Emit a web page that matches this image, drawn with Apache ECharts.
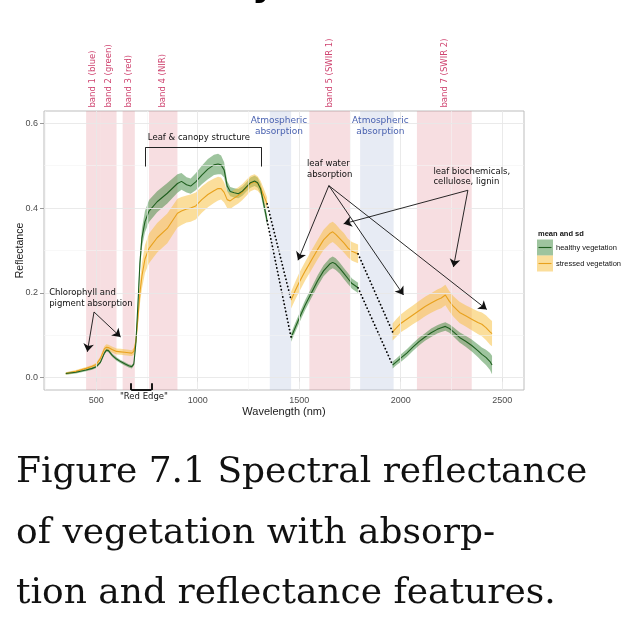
<!DOCTYPE html>
<html>
<head>
<meta charset="utf-8">
<script src="https://cdn.jsdelivr.net/npm/echarts@6/dist/echarts.min.js"></script>
<style>
  html, body { margin: 0; padding: 0; background: #fff; }
  #chart { width: 638px; height: 628px; }
</style>
</head>
<body>
<div id="chart"></div>
<script>
// ---- spectra: three measured segments (gaps = atmospheric absorption) ----
var wl1 = [350, 400, 450, 480, 500, 520, 540, 550, 560, 580, 600, 620, 640, 660, 675, 685, 695, 705, 715, 725, 740, 760, 800, 850, 900, 920, 945, 965, 990, 1020, 1050, 1080, 1100, 1115, 1130, 1145, 1160, 1180, 1200, 1220, 1240, 1260, 1280, 1295, 1310, 1325, 1342];
var healthy1 = [0.010, 0.013, 0.018, 0.022, 0.026, 0.036, 0.058, 0.065, 0.064, 0.052, 0.044, 0.038, 0.033, 0.028, 0.026, 0.032, 0.080, 0.170, 0.270, 0.330, 0.368, 0.393, 0.415, 0.435, 0.458, 0.463, 0.455, 0.452, 0.462, 0.478, 0.492, 0.502, 0.504, 0.502, 0.490, 0.452, 0.439, 0.436, 0.434, 0.440, 0.450, 0.460, 0.464, 0.460, 0.445, 0.410, 0.370];
var healthySd1 = [0.003, 0.003, 0.003, 0.003, 0.003, 0.003, 0.004, 0.004, 0.004, 0.004, 0.004, 0.004, 0.004, 0.004, 0.004, 0.004, 0.006, 0.012, 0.018, 0.022, 0.025, 0.026, 0.025, 0.024, 0.022, 0.020, 0.018, 0.018, 0.020, 0.022, 0.024, 0.024, 0.024, 0.022, 0.018, 0.012, 0.011, 0.011, 0.011, 0.011, 0.011, 0.012, 0.012, 0.012, 0.012, 0.012, 0.012];
var stressed1 = [0.010, 0.015, 0.022, 0.027, 0.031, 0.045, 0.068, 0.072, 0.071, 0.066, 0.062, 0.061, 0.060, 0.059, 0.058, 0.062, 0.085, 0.140, 0.200, 0.240, 0.280, 0.305, 0.330, 0.352, 0.388, 0.393, 0.398, 0.400, 0.405, 0.420, 0.432, 0.441, 0.446, 0.446, 0.437, 0.420, 0.417, 0.424, 0.430, 0.438, 0.448, 0.458, 0.462, 0.458, 0.448, 0.430, 0.410];
var stressedSd1 = [0.003, 0.003, 0.003, 0.003, 0.004, 0.005, 0.006, 0.007, 0.007, 0.007, 0.007, 0.007, 0.007, 0.007, 0.007, 0.008, 0.010, 0.018, 0.026, 0.030, 0.033, 0.035, 0.035, 0.035, 0.034, 0.033, 0.032, 0.032, 0.032, 0.031, 0.030, 0.029, 0.028, 0.026, 0.024, 0.020, 0.019, 0.019, 0.019, 0.019, 0.019, 0.018, 0.018, 0.017, 0.016, 0.016, 0.015];

var wl2 = [1460, 1480, 1500, 1530, 1560, 1590, 1620, 1650, 1665, 1680, 1700, 1720, 1740, 1760, 1790];
var healthy2 = [0.095, 0.118, 0.140, 0.172, 0.200, 0.228, 0.252, 0.268, 0.272, 0.268, 0.258, 0.246, 0.234, 0.222, 0.212];
var healthySd2 = [0.010, 0.011, 0.011, 0.012, 0.012, 0.013, 0.013, 0.014, 0.014, 0.014, 0.013, 0.013, 0.013, 0.012, 0.012];
var stressed2 = [0.183, 0.205, 0.225, 0.252, 0.277, 0.302, 0.325, 0.340, 0.344, 0.338, 0.328, 0.318, 0.306, 0.298, 0.292];
var stressedSd2 = [0.020, 0.021, 0.022, 0.022, 0.023, 0.023, 0.024, 0.024, 0.024, 0.024, 0.023, 0.023, 0.022, 0.022, 0.022];

var wl3 = [1960, 1980, 2000, 2030, 2060, 2090, 2120, 2150, 2180, 2200, 2220, 2240, 2260, 2290, 2320, 2350, 2380, 2400, 2420, 2440, 2450];
var healthy3 = [0.030, 0.038, 0.046, 0.058, 0.072, 0.085, 0.096, 0.106, 0.114, 0.118, 0.121, 0.116, 0.108, 0.095, 0.086, 0.076, 0.064, 0.055, 0.048, 0.038, 0.030];
var healthySd3 = [0.008, 0.008, 0.009, 0.009, 0.009, 0.009, 0.009, 0.010, 0.010, 0.010, 0.010, 0.010, 0.011, 0.012, 0.013, 0.014, 0.015, 0.016, 0.018, 0.020, 0.022];
var stressed3 = [0.108, 0.118, 0.128, 0.138, 0.148, 0.158, 0.168, 0.176, 0.184, 0.188, 0.195, 0.180, 0.168, 0.154, 0.146, 0.138, 0.130, 0.126, 0.118, 0.108, 0.104];
var stressedSd3 = [0.020, 0.021, 0.021, 0.022, 0.022, 0.023, 0.023, 0.023, 0.024, 0.024, 0.024, 0.024, 0.024, 0.025, 0.025, 0.026, 0.027, 0.028, 0.029, 0.030, 0.030];

// ---- Landsat TM bands and atmospheric windows (nm) ----
var bandNames = ['band 1 (blue)', 'band 2 (green)', 'band 3 (red)', 'band 4 (NIR)', 'band 5 (SWIR 1)', 'band 7 (SWIR 2)'];
var bandStart = [450, 520, 630, 760, 1550, 2080];
var bandEnd = [520, 600, 690, 900, 1750, 2350];
var atmoStart = [1355, 1800];
var atmoEnd = [1460, 1965];
var atmoLabelAt = [1400, 1900];

// axis ticks
var xTicks = [500, 1000, 1500, 2000, 2500];
var xMinor = [250, 750, 1250, 1750, 2250];
var yTicks = [0, 0.2, 0.4, 0.6];
var yMinor = [0.1, 0.3, 0.5];

// annotations, in data coordinates
var arrowsFrom = [[489, 0.155], [489, 0.155], [1646, 0.453], [1646, 0.453], [1646, 0.453], [2331, 0.442], [2331, 0.442]];
var arrowsTo = [[456, 0.061], [620, 0.096], [1494, 0.277], [2014, 0.195], [2424, 0.161], [1719, 0.363], [2260, 0.261]];
var canopyBracket = [[743, 0.498], [743, 0.5435], [1314, 0.5435], [1314, 0.498]];
var redEdgeBracket = [[672, -0.013], [672, -0.029], [772, -0.029], [772, -0.013]];

var GREEN = '#1f5f1f', GREEN_FILL = 'rgba(40,125,40,0.45)';
var ORANGE = '#e8a11d', ORANGE_FILL = 'rgba(247,190,55,0.5)';
var SANS = '"DejaVu Sans", sans-serif';

var segs = {
  healthy: [
    { x: wl1, y: healthy1, sd: healthySd1 },
    { x: wl2, y: healthy2, sd: healthySd2 },
    { x: wl3, y: healthy3, sd: healthySd3 }
  ],
  stressed: [
    { x: wl1, y: stressed1, sd: stressedSd1 },
    { x: wl2, y: stressed2, sd: stressedSd2 },
    { x: wl3, y: stressed3, sd: stressedSd3 }
  ]
};

function pairs(xs, ys) {
  return xs.map(function (x, i) { return [x, ys[i]]; });
}

function ribbon(name, list, fill) {
  return {
    type: 'custom', name: name, z: 3, silent: true, clip: true,
    data: list.map(function (s) { return [s.x[0], s.y[0]]; }),
    renderItem: function (params, api) {
      var s = list[params.dataIndex];
      var up = [], lo = [];
      for (var i = 0; i < s.x.length; i++) {
        up.push(api.coord([s.x[i], s.y[i] + s.sd[i]]));
        lo.unshift(api.coord([s.x[i], s.y[i] - s.sd[i]]));
      }
      return { type: 'polygon', shape: { points: up.concat(lo) }, style: { fill: fill } };
    }
  };
}

function meanLines(name, list, color) {
  return list.map(function (s) {
    return {
      type: 'line', name: name, z: 4, silent: true, symbol: 'none',
      data: pairs(s.x, s.y),
      lineStyle: { color: color, width: 1.1 }
    };
  });
}

// dotted links across the atmospheric gaps
function gapLinks(list) {
  var out = [];
  for (var k = 1; k < list.length; k++) {
    var a = list[k - 1], b = list[k];
    out.push({
      type: 'line', z: 4, silent: true, symbol: 'none',
      data: [[a.x[a.x.length - 1], a.y[a.y.length - 1]], [b.x[0], b.y[0]]],
      lineStyle: { color: '#000', width: 1.8, type: [0.1, 3.6], cap: 'round' }
    });
  }
  return out;
}

function polyline(pts) {
  var out = [];
  for (var i = 1; i < pts.length; i++) out.push([{ coord: pts[i - 1] }, { coord: pts[i] }]);
  return out;
}

var series = [];
// grid lines + shaded bands
series.push({
  type: 'line', data: [], silent: true, z: 1,
  markLine: {
    silent: true, symbol: 'none', label: { show: false }, animation: false,
    data: xMinor.map(function (v) { return { xAxis: v, lineStyle: { color: '#f3f3f3', width: 0.6, type: 'solid' } }; })
      .concat(yMinor.map(function (v) { return { yAxis: v, lineStyle: { color: '#f3f3f3', width: 0.6, type: 'solid' } }; }))
      .concat(xTicks.map(function (v) { return { xAxis: v, lineStyle: { color: '#e8e8e8', width: 0.9, type: 'solid' } }; }))
      .concat(yTicks.map(function (v) { return { yAxis: v, lineStyle: { color: '#e8e8e8', width: 0.9, type: 'solid' } }; }))
  },
  markArea: {
    silent: true, label: { show: false },
    data: bandStart.map(function (s, i) {
      return [{ xAxis: s, itemStyle: { color: 'rgba(223,127,139,0.26)' } }, { xAxis: bandEnd[i] }];
    }).concat(atmoStart.map(function (s, i) {
      return [{ xAxis: s, itemStyle: { color: 'rgba(175,190,218,0.3)' } }, { xAxis: atmoEnd[i] }];
    }))
  }
});
series.push(ribbon('healthy vegetation', segs.healthy, GREEN_FILL));
series.push(ribbon('stressed vegetation', segs.stressed, ORANGE_FILL));
series = series.concat(meanLines('stressed vegetation', segs.stressed, ORANGE));
series = series.concat(meanLines('healthy vegetation', segs.healthy, GREEN));
series = series.concat(gapLinks(segs.healthy), gapLinks(segs.stressed));
// arrows and brackets
series.push({
  type: 'line', data: [], silent: true, z: 6,
  markLine: {
    silent: true, animation: false, symbol: ['none', 'arrow'], symbolSize: 8,
    label: { show: false },
    lineStyle: { color: '#111', width: 0.9, type: 'solid' },
    itemStyle: { color: '#111' },
    data: arrowsFrom.map(function (p, i) { return [{ coord: p }, { coord: arrowsTo[i] }]; })
  }
});
series.push({
  type: 'line', data: [], silent: true, z: 6,
  markLine: {
    silent: true, animation: false, symbol: 'none', label: { show: false },
    lineStyle: { color: '#222', width: 1, type: 'solid' },
    data: polyline(canopyBracket).concat(polyline(redEdgeBracket).map(function (d) {
      d[0].lineStyle = { color: '#000', width: 1.8, type: 'solid' };
      return d;
    }))
  }
});

var chart = echarts.init(document.getElementById('chart'), null, { renderer: 'canvas' });
chart.setOption({
  animation: false,
  backgroundColor: '#fff',
  grid: { left: 44, right: 114, top: 111, bottom: 238, show: true, borderColor: '#bdbdbd', borderWidth: 1 },
  xAxis: {
    type: 'value', min: 242.5, max: 2607.5,
    name: 'Wavelength (nm)', nameLocation: 'middle', nameGap: 16,
    nameTextStyle: { fontFamily: 'Liberation Sans', fontSize: 11, color: '#1a1a1a' },
    axisLine: { show: false },
    axisTick: { show: true, customValues: xTicks, length: 4, lineStyle: { color: '#999' } },
    axisLabel: { customValues: xTicks, fontFamily: 'Liberation Sans', fontSize: 9, color: '#4d4d4d', margin: 6,
      formatter: function (v) { return String(v); } },
    splitLine: { show: false }
  },
  yAxis: {
    type: 'value', min: -0.029, max: 0.629,
    name: 'Reflectance', nameLocation: 'middle', nameGap: 18, nameRotate: 90, nameMoveOverlap: false,
    nameTextStyle: { fontFamily: 'Liberation Sans', fontSize: 10.5, color: '#1a1a1a' },
    axisLine: { show: false },
    axisTick: { show: true, customValues: yTicks, length: 4, lineStyle: { color: '#999' } },
    axisLabel: { customValues: yTicks, fontFamily: 'Liberation Sans', fontSize: 9, color: '#4d4d4d', margin: 6,
      formatter: function (v) { return v.toFixed(1); } },
    splitLine: { show: false }
  },
  series: series
});

// ---- text annotations positioned through the axes ----
function px(p) { return chart.convertToPixel({ gridIndex: 0 }, p); }
function txt(p, text, style, extra) {
  var q = px(p);
  var el = {
    type: 'text', x: q[0], y: q[1], z: 20, silent: true,
    style: Object.assign({ text: text, fill: '#111', font: '8.5px ' + SANS }, style)
  };
  return Object.assign(el, extra || {});
}

var graphics = [];
bandNames.forEach(function (name, i) {
  graphics.push(txt([(bandStart[i] + bandEnd[i]) / 2, 0.637], name,
    { fill: '#cf4470', font: '8.5px ' + SANS, align: 'left', verticalAlign: 'middle' },
    { rotation: Math.PI / 2 }));
});
atmoLabelAt.forEach(function (x) {
  graphics.push(txt([x, 0.618], 'Atmospheric\nabsorption',
    { fill: '#4a62b0', font: '9px ' + SANS, align: 'center', verticalAlign: 'top', lineHeight: 10.5 }));
});
graphics.push(txt([1006, 0.566], 'Leaf & canopy structure', { align: 'center', verticalAlign: 'middle' }));
graphics.push(txt([268, 0.212], 'Chlorophyll and\npigment absorption', { align: 'left', verticalAlign: 'top', lineHeight: 10.6 }));
graphics.push(txt([1538, 0.517], 'leaf water\nabsorption', { align: 'left', verticalAlign: 'top', lineHeight: 11 }));
graphics.push(txt([2161, 0.499], 'leaf biochemicals,\ncellulose, lignin', { align: 'left', verticalAlign: 'top', lineHeight: 10.5 }));
graphics.push(txt([735, -0.045], '"Red Edge"', { align: 'center', verticalAlign: 'middle', font: '8.5px ' + SANS }));

// legend
graphics.push({ type: 'text', x: 538, y: 234, style: { text: 'mean and sd', font: 'bold 7.5px "Liberation Sans"', fill: '#111', verticalAlign: 'middle' } });
[['healthy vegetation', GREEN_FILL, GREEN], ['stressed vegetation', ORANGE_FILL, ORANGE]].forEach(function (k, i) {
  var top = 239.5 + i * 16;
  graphics.push({ type: 'rect', shape: { x: 537, y: top, width: 16, height: 16 }, style: { fill: k[1] } });
  graphics.push({ type: 'line', shape: { x1: 538.5, y1: top + 8, x2: 551.5, y2: top + 8 }, style: { stroke: k[2], lineWidth: 1.1 } });
  graphics.push({ type: 'text', x: 556, y: top + 8, style: { text: k[0], font: '7.5px "Liberation Sans"', fill: '#111', verticalAlign: 'middle' } });
});

// cropped heading above and the figure caption below
graphics.push({ type: 'text', x: 252, y: 5, style: { text: 'y', font: 'bold 36px "DejaVu Sans"', fill: '#000', verticalAlign: 'bottom' } });
var caption = ['Figure 7.1 Spectral reflectance', 'of vegetation with absorp-', 'tion and reflectance features.'];
caption.forEach(function (line, i) {
  graphics.push({ type: 'text', x: 16, y: 473 + i * 60.5, style: { text: line, font: '36px "DejaVu Serif"', fill: '#111', verticalAlign: 'middle' } });
});

chart.setOption({ graphic: graphics });
</script>
</body>
</html>
